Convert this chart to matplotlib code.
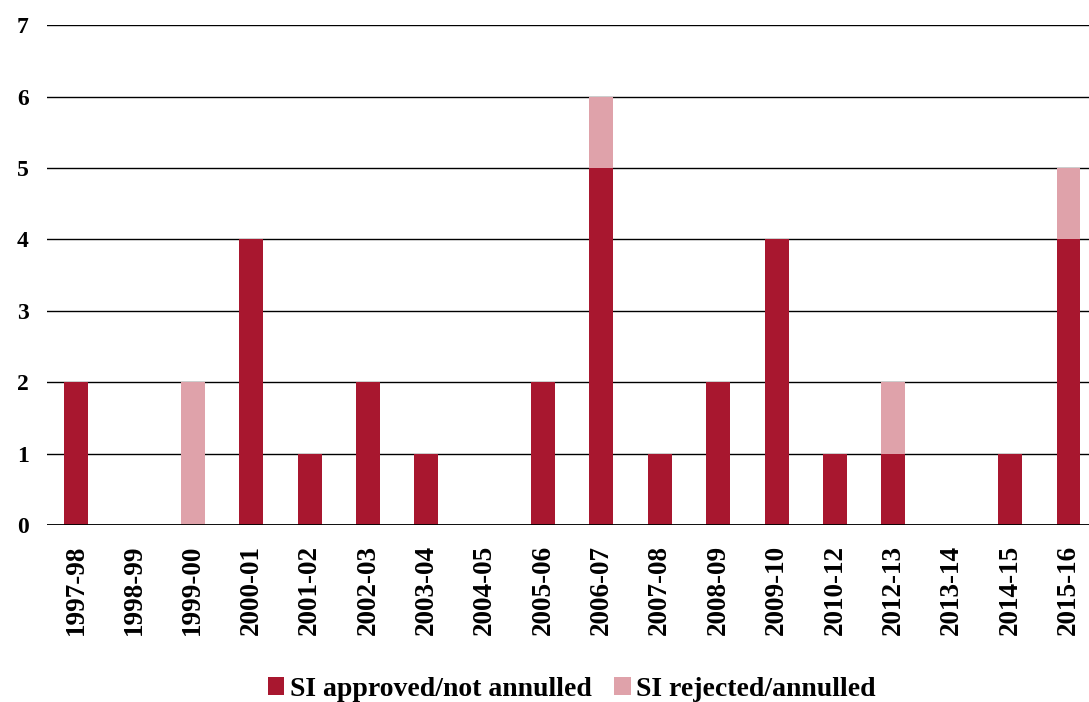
import matplotlib.pyplot as plt
import numpy as np

years = ['1997-98', '1998-99', '1999-00', '2000-01', '2001-02', '2002-03',
         '2003-04', '2004-05', '2005-06', '2006-07', '2007-08', '2008-09',
         '2009-10', '2010-12', '2012-13', '2013-14', '2014-15', '2015-16']
approved = [2, 0, 0, 4, 1, 2, 1, 0, 2, 5, 1, 2, 4, 1, 1, 0, 1, 4]
rejected = [0, 0, 2, 0, 0, 0, 0, 0, 0, 1, 0, 0, 0, 0, 1, 0, 0, 1]

DARK = '#A8172F'
LIGHT = '#DFA2AA'

plt.rcParams['font.family'] = ['Liberation Serif', 'DejaVu Serif']

fig = plt.figure(figsize=(10.89, 7.02), dpi=100)
ax = fig.add_axes([0.043, 0.252, 0.965, 0.712])

x = np.arange(len(years))
ax.bar(x, approved, width=0.41, color=DARK, label='SI approved/not annulled', zorder=3)
ax.bar(x, rejected, width=0.41, bottom=approved, color=LIGHT,
       label='SI rejected/annulled', zorder=3)

ax.set_xlim(-0.5, len(years) - 0.5)
ax.set_ylim(0, 7)
ax.yaxis.grid(True, color='black', linewidth=1.0, zorder=1)
for s in ax.spines.values():
    s.set_visible(False)
ax.axhline(0, color='black', linewidth=1.3, zorder=4)

ax.tick_params(axis='both', length=0)
ax.tick_params(axis='y', pad=13)
ax.set_yticks(range(8))
ax.set_yticklabels([str(i) for i in range(8)], fontweight='bold', fontsize=17)
ax.set_xticks(x)
ax.set_xticklabels(years, rotation=90, fontsize=19.5, fontweight='bold')
ax.tick_params(axis='x', pad=14)

fig.legend(loc='lower center', bbox_to_anchor=(0.525, -0.035), ncol=2, frameon=False,
           prop={'size': 20, 'weight': 'bold'}, handlelength=0.6, handleheight=0.6,
           handletextpad=0.2, columnspacing=0.8)

fig.savefig('out.png', dpi=100)
